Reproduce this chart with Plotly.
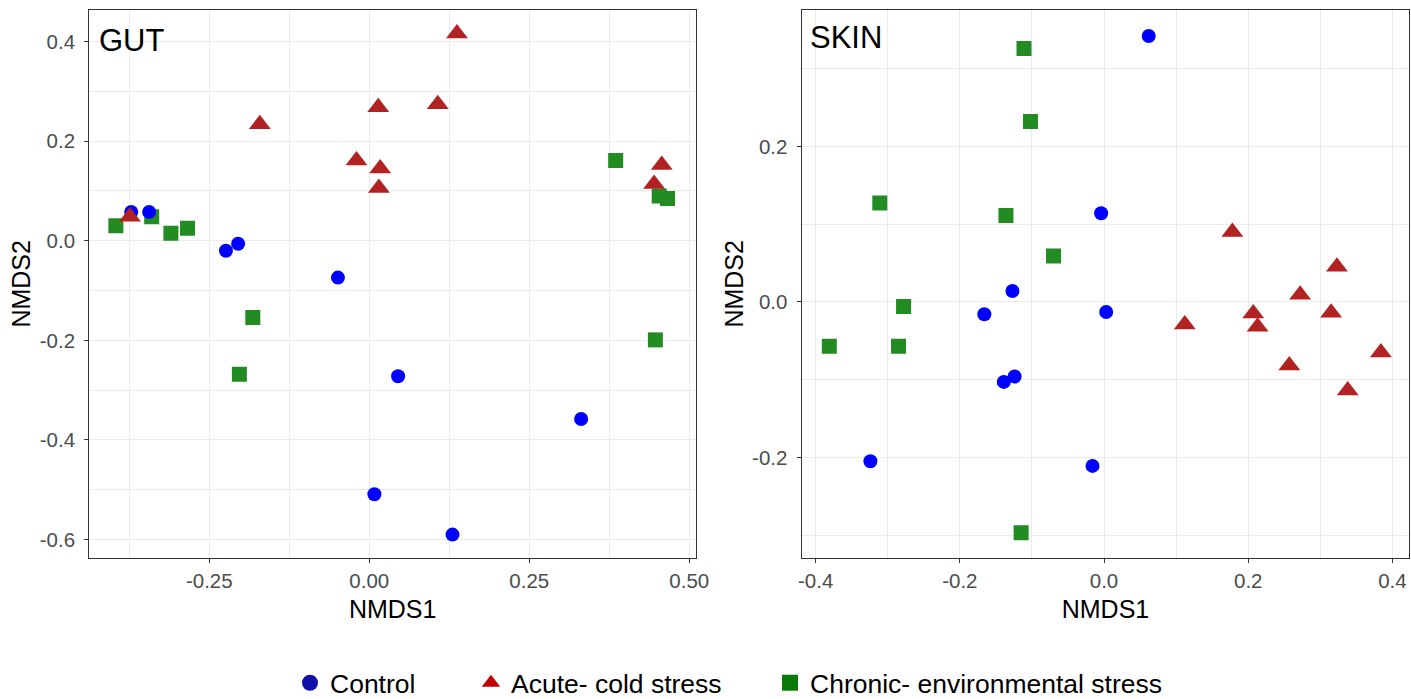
import plotly.graph_objects as go

# ---------------- data ----------------
gut_control_x = [-0.372, -0.344, -0.224, -0.205, -0.049, 0.045, 0.331, 0.008, 0.130]
gut_control_y = [0.058, 0.058, -0.020, -0.006, -0.074, -0.272, -0.358, -0.509, -0.590]
gut_acute_x = [-0.374, -0.171, -0.020, 0.014, 0.017, 0.015, 0.137, 0.107, 0.457, 0.445]
gut_acute_y = [0.048, 0.234, 0.161, 0.268, 0.145, 0.106, 0.416, 0.274, 0.152, 0.114]
gut_chronic_x = [-0.396, -0.340, -0.310, -0.284, -0.182, -0.203, 0.385, 0.453, 0.466, 0.447]
gut_chronic_y = [0.030, 0.048, 0.015, 0.025, -0.154, -0.268, 0.161, 0.090, 0.085, -0.199]

skin_control_x = [0.062, -0.004, 0.003, -0.127, -0.166, -0.139, -0.124, -0.324, -0.016]
skin_control_y = [0.342, 0.114, -0.013, 0.014, -0.016, -0.103, -0.096, -0.205, -0.211]
skin_acute_x = [0.178, 0.323, 0.272, 0.112, 0.207, 0.213, 0.315, 0.257, 0.384, 0.338]
skin_acute_y = [0.090, 0.045, 0.009, -0.029, -0.015, -0.032, -0.014, -0.082, -0.065, -0.114]
skin_chronic_x = [-0.111, -0.102, -0.311, -0.136, -0.070, -0.278, -0.381, -0.285, -0.115]
skin_chronic_y = [0.326, 0.232, 0.127, 0.111, 0.059, -0.006, -0.057, -0.057, -0.297]

group_names = ["Control", "Acute- cold stress", "Chronic- environmental stress"]

gut_xticks = [-0.25, 0.0, 0.25, 0.5]
gut_xticklabels = ["-0.25", "0.00", "0.25", "0.50"]
gut_yticks = [-0.6, -0.4, -0.2, 0.0, 0.2, 0.4]
gut_yticklabels = ["-0.6", "-0.4", "-0.2", "0.0", "0.2", "0.4"]
skin_xticks = [-0.4, -0.2, 0.0, 0.2, 0.4]
skin_xticklabels = ["-0.4", "-0.2", "0.0", "0.2", "0.4"]
skin_yticks = [-0.2, 0.0, 0.2]
skin_yticklabels = ["-0.2", "0.0", "0.2"]

# ---------------- styles ----------------
FONT = "Liberation Sans, Arial, sans-serif"
C_CTRL, C_ACUTE, C_CHRON = "#0000FF", "#B22222", "#228B22"
L_CTRL, L_ACUTE, L_CHRON = "#1010A8", "#C00000", "#0A7A0A"

fig = go.Figure()

def add_panel(xa, ya, cx, cy, ax_, ay_, hx, hy):
    fig.add_trace(go.Scatter(x=hx, y=hy, mode="markers", xaxis=xa, yaxis=ya, showlegend=False,
                             marker=dict(symbol="square", size=15, color=C_CHRON, line=dict(width=0))))
    fig.add_trace(go.Scatter(x=cx, y=cy, mode="markers", xaxis=xa, yaxis=ya, showlegend=False,
                             marker=dict(symbol="circle", size=14, color=C_CTRL, line=dict(width=0))))
    fig.add_trace(go.Scatter(x=ax_, y=ay_, mode="markers", xaxis=xa, yaxis=ya, showlegend=False,
                             marker=dict(symbol="triangle-up", size=19, color=C_ACUTE, line=dict(width=0))))

add_panel("x", "y", gut_control_x, gut_control_y, gut_acute_x, gut_acute_y, gut_chronic_x, gut_chronic_y)
add_panel("x2", "y2", skin_control_x, skin_control_y, skin_acute_x, skin_acute_y, skin_chronic_x, skin_chronic_y)

# legend-only traces
for name, sym, col, lg in zip(group_names, ["circle", "triangle-up", "square"],
                              [L_CTRL, L_ACUTE, L_CHRON], ["legend", "legend2", "legend3"]):
    fig.add_trace(go.Scatter(x=[None], y=[None], mode="markers", name=name, legend=lg,
                             marker=dict(symbol=sym, size=21, color=col, line=dict(width=0))))

grid = "#EBEBEB"
def axis_style(domain, rng, tickvals, ticktext, dminor, title, anchor, standoff_lbl, standoff_title):
    return dict(domain=domain, range=rng, tickmode="array", tickvals=tickvals, ticktext=ticktext,
                showgrid=True, gridcolor=grid, gridwidth=1.3, zeroline=False,
                minor=dict(tickmode="linear", tick0=0, dtick=dminor, showgrid=True,
                           gridcolor=grid, gridwidth=1.0, ticks=""),
                showline=True, linecolor="#333333", linewidth=1.3, mirror=True,
                ticks="outside", ticklen=4, tickcolor="#333333", tickwidth=1.2,
                ticklabelstandoff=standoff_lbl,
                tickfont=dict(family=FONT, size=20.5, color="#4D4D4D"),
                title=dict(text=title, font=dict(family=FONT, size=25, color="black"), standoff=standoff_title),
                anchor=anchor, automargin=False)

ydom = [1 - 558 / 699, 1 - 9.7 / 699]
fig.update_layout(
    width=1411, height=699,
    margin=dict(l=0, r=0, t=0, b=0, autoexpand=False),
    paper_bgcolor="white", plot_bgcolor="white",
    xaxis=axis_style([89.3 / 1411, 696 / 1411], [-0.4375, 0.5105], gut_xticks, gut_xticklabels, 0.125, "NMDS1", "y", 0, 9),
    yaxis=axis_style(ydom, [-0.637, 0.464], gut_yticks, gut_yticklabels, 0.1, "NMDS2", "x", 5, 1),
    xaxis2=axis_style([801.7 / 1411, 1409.3 / 1411], [-0.4193, 0.4234], skin_xticks, skin_xticklabels, 0.1, "NMDS1", "y2", 0, 9),
    yaxis2=axis_style(ydom, [-0.3295, 0.3758], skin_yticks, skin_yticklabels, 0.1, "NMDS2", "x2", 5, 1),
    showlegend=True,
)

leg_common = dict(orientation="h", yanchor="middle", y=(699 - 683) / 699, xanchor="left",
                  font=dict(family=FONT, size=26.5, color="black"), bgcolor="rgba(0,0,0,0)",
                  itemsizing="trace")
fig.update_layout(
    legend=dict(x=290 / 1411, **leg_common),
    legend2=dict(x=471 / 1411, **leg_common),
    legend3=dict(x=770 / 1411, **leg_common),
)

fig.add_annotation(text="GUT", xref="x domain", yref="y domain", x=0.012, y=0.98,
                   xanchor="left", yanchor="top", showarrow=False,
                   font=dict(family=FONT, size=31, color="black"))
fig.add_annotation(text="SKIN", xref="x2 domain", yref="y2 domain", x=0.01, y=0.985,
                   xanchor="left", yanchor="top", showarrow=False,
                   font=dict(family=FONT, size=31, color="black"))

fig.write_html("out.html", config={"displayModeBar": False},
               post_script="document.body.style.margin='0';document.body.style.overflow='hidden';")
